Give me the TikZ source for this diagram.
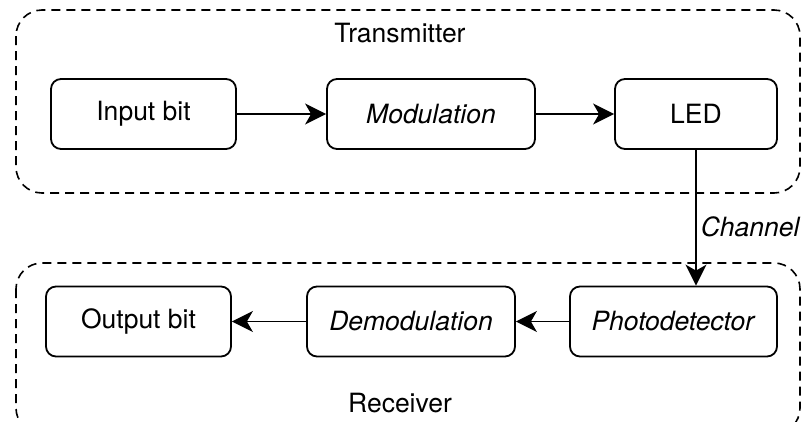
\documentclass[tikz,border=0pt]{standalone}
\usepackage{fontspec}
\setmainfont{TeX Gyre Heros}
\usetikzlibrary{arrows.meta}

\begin{document}
\begin{tikzpicture}[x=1pt,y=-1pt,
  blk/.style={draw,line width=1.8pt,rounded corners=10pt,minimum height=70pt,
    inner sep=0pt,font=\fontsize{26.5}{30}\selectfont},
  grp/.style={draw,line width=1.6pt,dash pattern=on 9pt off 6pt,rounded corners=26pt},
  link/.style={line width=1.7pt,-{Stealth[length=21pt,width=21pt,inset=6pt]}},
  lbl/.style={font=\fontsize{26.5}{30}\selectfont}]
 \useasboundingbox (0,0) rectangle (805,421);
 \draw[grp] (16,10) rectangle (800,193);
 \draw[grp] (16,263) rectangle (800,434);
 \node[lbl] (tx) at (400,33) {Transmitter};
 \node[lbl] (rx) at (400,403) {Receiver};
 \foreach \nm/\x/\y/\w/\txt in {inbit/143.5/114/185/{Input bit},
    modul/431/114/208/{\textit{Modulation}}, led/696/114/162/{LED},
    outbit/138.5/321.5/185/{Output bit}, demod/411/321.5/208/{\textit{Demodulation}},
    photo/673.5/321.5/207/{\textit{Photodetector}}}{%
   \node[blk,minimum width=\w pt] (\nm) at (\x,\y) {\txt};
 }
 \draw[link] (inbit) -- (modul);
 \draw[link] (modul) -- (led);
 \draw[link] (led.south) -- (led.south |- photo.north)
   node[lbl,pos=0.57,anchor=west,inner sep=4pt] (chan) {\itshape Channel};
 \draw[link] (photo) -- (demod);
 \draw[link] (demod) -- (outbit);
\end{tikzpicture}
\end{document}
